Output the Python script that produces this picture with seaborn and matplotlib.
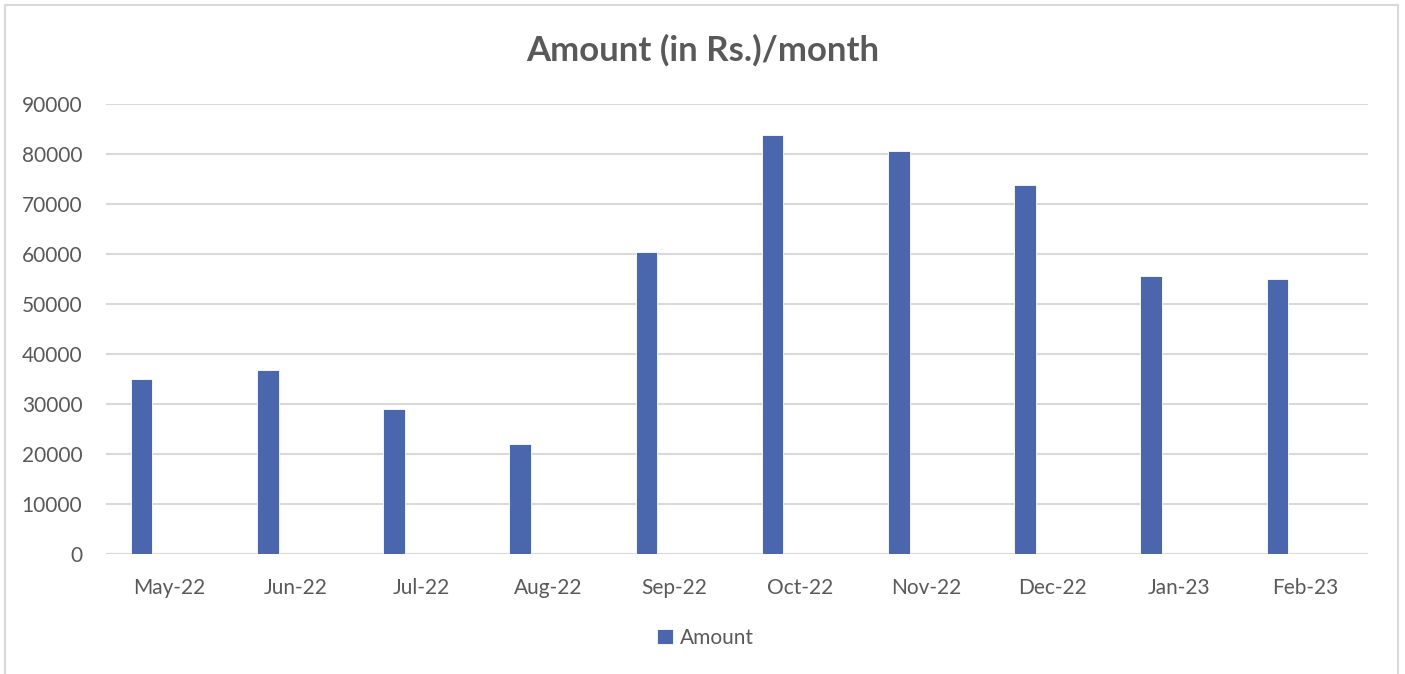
import pandas as pd
import matplotlib.pyplot as plt
import seaborn as sns
from matplotlib.patches import Rectangle

# data
months = ["May-22", "Jun-22", "Jul-22", "Aug-22", "Sep-22",
          "Oct-22", "Nov-22", "Dec-22", "Jan-23", "Feb-23"]
amount = [35000, 36800, 29000, 22100, 60500, 83800, 80600, 73900, 55700, 55000]
yticks = [0, 10000, 20000, 30000, 40000, 50000, 60000, 70000, 80000, 90000]

bar_color = "#4A66AC"
text_color = "#595959"
grid_color = "#D9D9D9"

sns.set_theme(style="white")
plt.rcParams["font.family"] = ["Lato", "DejaVu Sans"]

df = pd.DataFrame({"Month": months, "Amount": amount})

fig = plt.figure(figsize=(14.05, 6.74), dpi=100)
ax = fig.add_axes([106 / 1405, 1 - 554 / 674, (1368 - 106) / 1405, (554 - 104) / 674])

sns.barplot(data=df, x="Month", y="Amount", color=bar_color, width=0.172,
            saturation=1, ax=ax, label="Amount", zorder=3)

# Excel leaves room for a second (empty) series, so bars sit left of centre
for p in ax.patches:
    p.set_x(p.get_x() - 0.218)
    p.set_edgecolor("white")
    p.set_linewidth(0.6)

ax.set_xlim(-0.5, len(months) - 0.5)
ax.set_ylim(0, 90000)
ax.set_yticks(yticks)
ax.set_yticklabels([str(v) for v in yticks])
ax.yaxis.grid(True, color=grid_color, linewidth=1.5, zorder=0)
ax.set_axisbelow(True)
for s in ax.spines.values():
    s.set_visible(False)
ax.axhline(0, color=grid_color, linewidth=1.5, zorder=1)
ax.set_xlabel("")
ax.set_ylabel("")
ax.tick_params(axis="both", length=0, labelsize=15, colors=text_color)
ax.tick_params(axis="y", pad=17)
ax.tick_params(axis="x", pad=17)

fig.text(0.5, 1 - 50 / 674, "Amount (in Rs.)/month", ha="center", va="center",
         fontsize=25, fontweight="bold", color=text_color)

leg = ax.legend(loc="center", bbox_to_anchor=(0.475, (554 - 638) / 450), frameon=False,
                fontsize=15, handlelength=0.75, handleheight=0.75, handletextpad=0.35)
for t in leg.get_texts():
    t.set_color(text_color)

# light chart border like the Excel chart area
fig.patches.append(Rectangle((5 / 1405, -0.01), 1393 / 1405, 1 - 5 / 674 + 0.01,
                             transform=fig.transFigure, fill=False,
                             edgecolor=grid_color, linewidth=1.5))

fig.savefig("out.png", dpi=100)
